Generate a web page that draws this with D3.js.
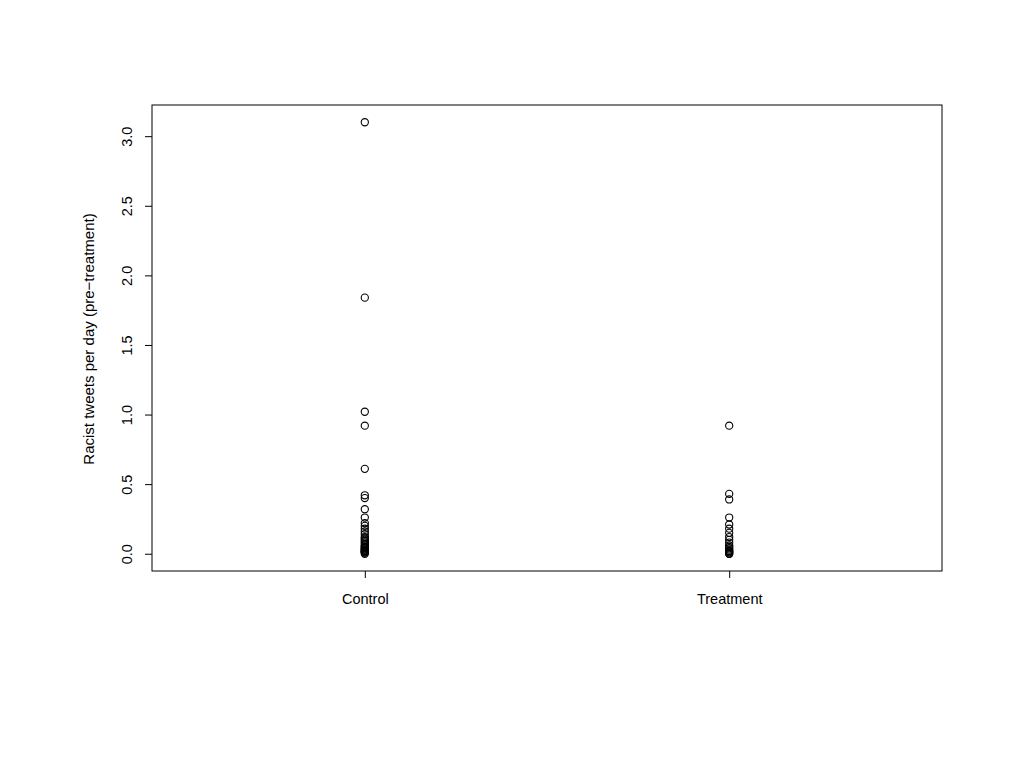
<!DOCTYPE html>
<html><head><meta charset="utf-8">
<script src="https://cdn.jsdelivr.net/npm/d3@7"></script>
<style>body{margin:0;background:#fff}svg{display:block}text{font-family:"Liberation Sans",Arial,sans-serif;fill:#000}</style>
</head><body>
<script>
const categories = ["Control", "Treatment"];
const controlValues = [3.10, 1.84, 1.02, 0.92, 0.61, 0.42, 0.40, 0.32, 0.26, 0.22, 0.20, 0.18, 0.16, 0.14, 0.12, 0.11, 0.10, 0.09, 0.08, 0.07, 0.06, 0.05, 0.05, 0.04, 0.04, 0.03, 0.03, 0.02, 0.02, 0.02, 0.01, 0.01, 0.01, 0.00];
const treatmentValues = [0.92, 0.43, 0.39, 0.26, 0.21, 0.18, 0.15, 0.12, 0.10, 0.08, 0.06, 0.05, 0.04, 0.03, 0.02, 0.02, 0.01, 0.01, 0.00, 0.00];
const yTicks = [0.0, 0.5, 1.0, 1.5, 2.0, 2.5, 3.0];
const yLabel = "Racist tweets per day (pre\u2212treatment)";

const W = 1024, H = 768;
const box = {l: 152, r: 942, t: 105, b: 571};
const svg = d3.select("body").append("svg").attr("width", W).attr("height", H);

const x = d3.scaleLinear().domain([0.416, 2.584]).range([box.l, box.r]);
const y = d3.scaleLinear().domain([-0.124, 3.224]).range([box.b, box.t]);

svg.append("rect").attr("x", box.l).attr("y", box.t).attr("width", box.r - box.l).attr("height", box.b - box.t)
  .attr("fill", "none").attr("stroke", "#000").attr("stroke-width", 1);

// y axis
const ya = svg.append("g").attr("transform", `translate(${box.l},0)`)
  .call(d3.axisLeft(y).tickValues(yTicks).tickSize(7).tickPadding(0).tickFormat(d3.format(".1f")));
ya.select(".domain").remove();
ya.selectAll(".tick text").attr("transform", "rotate(-90)").attr("x", 0).attr("y", -25)
  .attr("dy", "0.35em").attr("text-anchor", "middle").style("font-size", "14.5px").style("font-family", '"Liberation Sans",Arial,sans-serif');
ya.selectAll(".tick line").attr("stroke", "#000");

// x axis
const xa = svg.append("g").attr("transform", `translate(0,${box.b})`)
  .call(d3.axisBottom(x).tickValues([1, 2]).tickSize(7).tickPadding(0).tickFormat((d) => categories[d - 1]));
xa.select(".domain").remove();
xa.selectAll(".tick text").attr("y", 33).attr("dy", 0).style("font-size", "14.5px").style("font-family", '"Liberation Sans",Arial,sans-serif');
xa.selectAll(".tick line").attr("stroke", "#000");

svg.append("text").attr("transform", `translate(94,${(box.t + box.b) / 2 + 1}) rotate(-90)`)
  .attr("text-anchor", "middle").style("font-size", "15px").text(yLabel);

const pts = [];
controlValues.forEach(v => pts.push({g: 1, v}));
treatmentValues.forEach(v => pts.push({g: 2, v}));
svg.append("g").selectAll("circle").data(pts).join("circle")
  .attr("cx", d => x(d.g)).attr("cy", d => y(d.v)).attr("r", 3.6)
  .attr("fill", "none").attr("stroke", "#000").attr("stroke-width", 1.1);
</script>
</body></html>
